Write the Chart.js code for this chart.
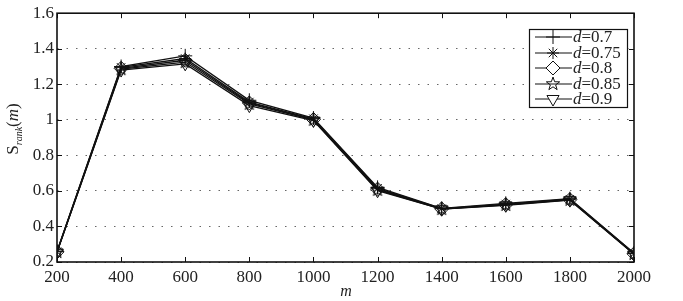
<!DOCTYPE html>
<html>
<head>
<meta charset="utf-8">
<script src="https://cdn.jsdelivr.net/npm/chart.js@4/dist/chart.umd.min.js"></script>
<style>
  html, body { margin: 0; padding: 0; background: #fff; }
</style>
</head>
<body>
<canvas id="chart" width="683" height="301"></canvas>
<script>
// m values on the x axis
const mValues = [200, 400, 600, 800, 1000, 1200, 1400, 1600, 1800, 2000];
const yTicks = [0.2, 0.4, 0.6, 0.8, 1.0, 1.2, 1.4, 1.6];

// S_rank(m) for each d
const d07  = [0.260, 1.300, 1.360, 1.110, 1.010, 0.620, 0.502, 0.530, 0.556, 0.250];
const d075 = [0.258, 1.295, 1.345, 1.100, 1.006, 0.615, 0.500, 0.526, 0.553, 0.248];
const d08  = [0.257, 1.290, 1.335, 1.095, 1.002, 0.610, 0.499, 0.523, 0.551, 0.246];
const d085 = [0.256, 1.285, 1.325, 1.090, 1.000, 0.606, 0.498, 0.521, 0.550, 0.245];
const d09  = [0.254, 1.280, 1.315, 1.080, 0.996, 0.601, 0.497, 0.519, 0.548, 0.243];
const dLabels = ['0.7', '0.75', '0.8', '0.85', '0.9'];

const FONT = '"Liberation Serif", "Times New Roman", serif';

// pentagram marker, Chart.js has no such point style
function makePentagram(r) {
    const size = Math.ceil(r * 2 + 4);
    const c = document.createElement('canvas');
    c.width = size; c.height = size;
    const g = c.getContext('2d');
    const cx = size / 2, cy = size / 2;
    g.beginPath();
    for (let i = 0; i < 10; i++) {
        const rr = i % 2 === 0 ? r : r * 0.4;
        const a = -Math.PI / 2 + i * Math.PI / 5;
        const px = cx + rr * Math.cos(a), py = cy + rr * Math.sin(a);
        if (i === 0) g.moveTo(px, py); else g.lineTo(px, py);
    }
    g.closePath();
    g.strokeStyle = '#111';
    g.lineWidth = 1;
    g.stroke();
    return c;
}
const pentagram = makePentagram(7);

const styles = [
    { pointStyle: 'cross', rotation: 0, radius: 7 },
    { pointStyle: 'star', rotation: 0, radius: 6 },
    { pointStyle: 'rectRot', rotation: 0, radius: 7 },
    { pointStyle: pentagram, rotation: 0, radius: 7 },
    { pointStyle: 'triangle', rotation: 180, radius: 7 },
];
const seriesData = [d07, d075, d08, d085, d09];

const datasets = seriesData.map((vals, i) => ({
    label: 'd=' + dLabels[i],
    data: mValues.map((m, j) => ({ x: m, y: vals[j] })),
    borderColor: '#111',
    borderWidth: 1.3,
    backgroundColor: 'rgba(0,0,0,0)',
    pointBorderColor: '#111',
    pointBackgroundColor: 'rgba(0,0,0,0)',
    pointBorderWidth: 1,
    pointStyle: styles[i].pointStyle,
    pointRotation: styles[i].rotation,
    pointRadius: styles[i].radius,
    tension: 0,
}));

// box frame with inward ticks
const framePlugin = {
    id: 'frame',
    beforeDatasetsDraw(chart) {
        const { ctx, chartArea: a, scales: { x, y } } = chart;
        ctx.save();
        ctx.strokeStyle = '#111';
        ctx.lineWidth = 1;
        ctx.beginPath();
        mValues.forEach((v) => {
            const px = Math.round(x.getPixelForValue(v)) + 0.5;
            ctx.moveTo(px, a.bottom); ctx.lineTo(px, a.bottom - 5);
            ctx.moveTo(px, a.top); ctx.lineTo(px, a.top + 5);
        });
        yTicks.forEach((v) => {
            const py = Math.round(y.getPixelForValue(v)) + 0.5;
            ctx.moveTo(a.left, py); ctx.lineTo(a.left + 5, py);
            ctx.moveTo(a.right, py); ctx.lineTo(a.right - 5, py);
        });
        ctx.stroke();
        ctx.lineWidth = 1.6;
        ctx.strokeRect(a.left, a.top, a.right - a.left, a.bottom - a.top);
        ctx.restore();
    },
};

// axis titles and the boxed legend
const textPlugin = {
    id: 'texts',
    afterDraw(chart) {
        const { ctx } = chart;
        ctx.save();
        ctx.fillStyle = '#222';
        ctx.textBaseline = 'alphabetic';

        // x title
        ctx.font = 'italic 16px ' + FONT;
        ctx.textAlign = 'center';
        ctx.fillText('m', 346, 296);

        // y title: S_rank(m)
        ctx.translate(18, 129);
        ctx.rotate(-Math.PI / 2);
        ctx.textAlign = 'left';
        const parts = [
            { t: 'S', f: '17px ' + FONT, dy: 0 },
            { t: 'rank', f: 'italic 10px ' + FONT, dy: 4 },
            { t: '(', f: '17px ' + FONT, dy: 0 },
            { t: 'm', f: 'italic 17px ' + FONT, dy: 0 },
            { t: ')', f: '17px ' + FONT, dy: 0 },
        ];
        let w = 0;
        parts.forEach((p) => { ctx.font = p.f; w += ctx.measureText(p.t).width; });
        let cx = -w / 2;
        parts.forEach((p) => {
            ctx.font = p.f;
            ctx.fillText(p.t, cx, p.dy);
            cx += ctx.measureText(p.t).width;
        });
        ctx.restore();

        // legend
        ctx.save();
        ctx.fillStyle = '#fff';
        ctx.fillRect(529, 29, 98, 78);
        ctx.strokeStyle = '#111';
        ctx.lineWidth = 1.2;
        ctx.strokeRect(529.5, 29.5, 98, 78);
        const rows = [37, 53, 68, 84, 99];
        datasets.forEach((ds, i) => {
            const yy = rows[i];
            ctx.strokeStyle = '#111';
            ctx.lineWidth = 1.2;
            ctx.beginPath();
            ctx.moveTo(535, yy); ctx.lineTo(572, yy);
            ctx.stroke();
            ctx.fillStyle = '#fff';
            ctx.lineWidth = 1;
            Chart.helpers.drawPoint(ctx, {
                pointStyle: styles[i].pointStyle,
                rotation: styles[i].rotation,
                radius: styles[i].radius,
                borderWidth: 1,
            }, 553, yy);
            ctx.fillStyle = '#222';
            ctx.textBaseline = 'middle';
            ctx.textAlign = 'left';
            ctx.font = 'italic 17px ' + FONT;
            ctx.fillText('d', 573, yy + 1);
            const dw = ctx.measureText('d').width;
            ctx.font = '17px ' + FONT;
            ctx.fillText('=' + dLabels[i], 573 + dw, yy + 1);
        });
        ctx.restore();
    },
};

new Chart(document.getElementById('chart').getContext('2d'), {
    type: 'line',
    data: { datasets: datasets },
    options: {
        responsive: false,
        animation: false,
        devicePixelRatio: 1,
        layout: { padding: { left: 0, top: 13, right: 49, bottom: 0 } },
        plugins: {
            legend: { display: false },
            tooltip: { enabled: false },
        },
        scales: {
            x: {
                type: 'linear',
                min: 200,
                max: 2000,
                afterFit: (s) => { s.height = 39; },
                afterBuildTicks: (s) => { s.ticks = mValues.map((v) => ({ value: v })); },
                grid: { display: false, drawTicks: false },
                border: { display: false },
                ticks: {
                    color: '#222',
                    padding: 5,
                    maxRotation: 0,
                    font: { family: FONT, size: 17 },
                    callback: (v) => String(v),
                },
            },
            y: {
                min: 0.2,
                max: 1.6,
                afterFit: (s) => { s.width = 57; },
                afterBuildTicks: (s) => { s.ticks = yTicks.map((v) => ({ value: v })); },
                grid: { color: '#666', lineWidth: 1, drawTicks: false },
                border: { display: false, dash: [1.5, 8] },
                ticks: {
                    color: '#222',
                    padding: 3,
                    font: { family: FONT, size: 17 },
                    callback: (v) => String(+v.toFixed(1)),
                },
            },
        },
    },
    plugins: [framePlugin, textPlugin],
});
</script>
</body>
</html>
